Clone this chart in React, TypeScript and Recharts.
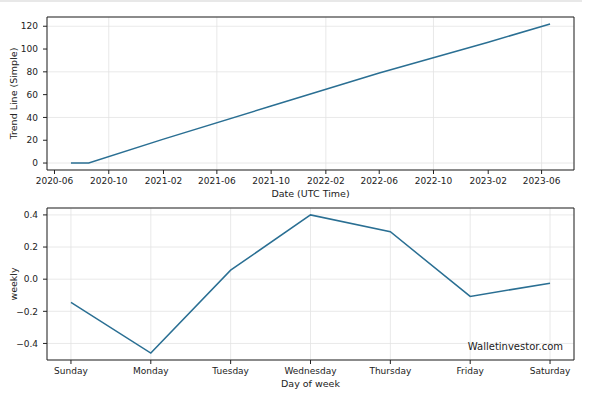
import React from 'react';
import { LineChart, Line, XAxis, YAxis, CartesianGrid, ReferenceArea } from 'recharts';

const FONT = '"DejaVu Sans", "Liberation Sans", sans-serif';
const LINE = '#2a6f93';
const GRID = '#e3e3e3';

// top panel: simple trend line
const trendDates = ['2020-07-08', '2020-08-17', '2021-02-01', '2021-10-01', '2022-06-01', '2023-02-01', '2023-06-20'];
const trendValues = [0, 0, 21, 50, 79, 106, 122];
const dateTicks = ['2020-06', '2020-10', '2021-02', '2021-06', '2021-10', '2022-02', '2022-06', '2022-10', '2023-02', '2023-06'];
const trendTicks = [0, 20, 40, 60, 80, 100, 120];

// bottom panel: weekly seasonality
const days = ['Sunday', 'Monday', 'Tuesday', 'Wednesday', 'Thursday', 'Friday', 'Saturday'];
const weekly = [-0.144, -0.46, 0.056, 0.4, 0.295, -0.107, -0.025];
const weeklyTicks = [-0.4, -0.2, 0, 0.2, 0.4];

const toTs = (s: string) => {
  const [y, m, d] = s.split('-').map(Number);
  return Date.UTC(y, m - 1, d || 1);
};

// matplotlib style 5% margins
const pad = (lo: number, hi: number): [number, number] => {
  const m = (hi - lo) * 0.05;
  return [lo - m, hi + m];
};

const trendData = trendDates.map((d, i) => ({ t: toTs(d), v: trendValues[i] }));
const weeklyData = days.map((d, i) => ({ i, v: weekly[i] }));

const xDom = pad(toTs(trendDates[0]), toTs(trendDates[trendDates.length - 1]));
const yDom = pad(Math.min(...trendValues), Math.max(...trendValues));
const wxDom = pad(0, days.length - 1);
const wyDom = pad(Math.min(...weekly), Math.max(...weekly));

const tick = { fontSize: 9, fill: '#222', fontFamily: FONT };

const fmtDate = (t: number) => {
  const d = new Date(t);
  return `${d.getUTCFullYear()}-${String(d.getUTCMonth() + 1).padStart(2, '0')}`;
};
const fmtWeekly = (v: number) => (v < 0 ? '\u2212' : '') + Math.abs(v).toFixed(1);

const YLabel = ({ viewBox, value }: any) => {
  const cy = viewBox.y + viewBox.height / 2;
  return (
    <text x={13} y={cy} transform={`rotate(-90, 13, ${cy})`} textAnchor="middle" dominantBaseline="central"
      fontSize={9.5} fill="#222" fontFamily={FONT}>
      {value}
    </text>
  );
};

export default function App() {
  return (
    <div style={{ position: 'absolute', left: 0, top: 0, width: 591, height: 393, background: '#fff', fontFamily: FONT }}>
      <div style={{ position: 'absolute', left: 0, top: 0, width: 582, height: 2, background: '#e8e8e8' }} />
      <LineChart width={591} height={200} data={trendData} margin={{ top: 17, right: 17, bottom: 0, left: 0 }}>
        <CartesianGrid stroke={GRID} strokeWidth={0.8} />
        <XAxis dataKey="t" type="number" domain={xDom} ticks={dateTicks.map(toTs)} tickFormatter={fmtDate}
          height={30} tick={tick} tickSize={4} tickMargin={3.5} axisLine={false} tickLine={{ stroke: '#222' }}
          label={{ value: 'Date (UTC Time)', position: 'insideBottom', offset: 3, style: { fontSize: 9.5, fill: '#222', fontFamily: FONT } }} />
        <YAxis type="number" domain={yDom} ticks={trendTicks} width={47} tick={tick} tickSize={4} tickMargin={5}
          axisLine={false} tickLine={{ stroke: '#222' }} label={<YLabel value="Trend Line (Simple)" />} />
        <ReferenceArea x1={xDom[0]} x2={xDom[1]} y1={yDom[0]} y2={yDom[1]} fill="none" stroke="#222" strokeWidth={1} ifOverflow="visible" />
        <Line type="linear" dataKey="v" stroke={LINE} strokeWidth={1.5} dot={false} isAnimationActive={false} />
      </LineChart>
      <div style={{ position: 'relative' }}>
        <LineChart width={591} height={193} data={weeklyData} margin={{ top: 8, right: 17, bottom: 0, left: 0 }}>
          <CartesianGrid stroke={GRID} strokeWidth={0.8} />
          <XAxis dataKey="i" type="number" domain={wxDom} ticks={days.map((_, i) => i)} tickFormatter={(i: number) => days[i]}
            height={33} tick={tick} tickSize={4} tickMargin={3.5} axisLine={false} tickLine={{ stroke: '#222' }}
            label={{ value: 'Day of week', position: 'insideBottom', offset: 6, style: { fontSize: 9.5, fill: '#222', fontFamily: FONT } }} />
          <YAxis type="number" domain={wyDom} ticks={weeklyTicks} tickFormatter={fmtWeekly} width={47} tick={tick}
            tickSize={4} tickMargin={5} axisLine={false} tickLine={{ stroke: '#222' }} label={<YLabel value="weekly" />} />
          <ReferenceArea x1={wxDom[0]} x2={wxDom[1]} y1={wyDom[0]} y2={wyDom[1]} fill="none" stroke="#222" strokeWidth={1} ifOverflow="visible" />
          <Line type="linear" dataKey="v" stroke={LINE} strokeWidth={1.5} dot={false} isAnimationActive={false} />
        </LineChart>
        <div style={{ position: 'absolute', right: 28, top: 141, fontSize: 10, color: '#222', fontFamily: FONT }}>
          Walletinvestor.com
        </div>
      </div>
    </div>
  );
}
